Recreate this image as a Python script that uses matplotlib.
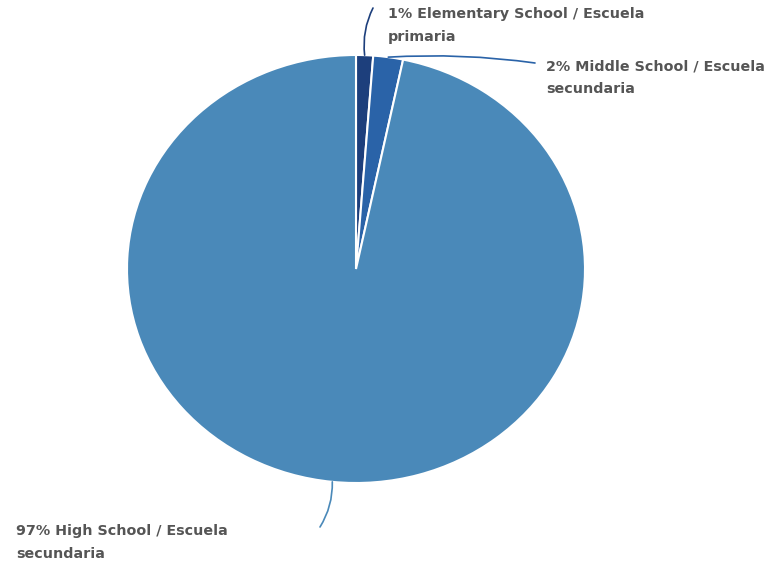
import numpy as np
import matplotlib.pyplot as plt

categories = ["Elementary School / Escuela primaria",
              "Middle School / Escuela secundaria",
              "High School / Escuela secundaria"]
values = [1.2, 2.1, 96.7]
label_lines = ["1% Elementary School / Escuela\nprimaria",
               "2% Middle School / Escuela\nsecundaria",
               "97% High School / Escuela\nsecundaria"]
colors = ["#1d3f7c", "#2a63a8", "#4a89b9"]

W, H = 776, 564
fig = plt.figure(figsize=(W / 100, H / 100), dpi=100)
fig.patch.set_facecolor("white")
ax = fig.add_axes([127 / W, (H - 483) / H, 458 / W, 428 / H])
wedges, _ = ax.pie(values, colors=colors, startangle=90, counterclock=False,
                   wedgeprops=dict(edgecolor="white", linewidth=1.5), radius=1.0)
ax.set_aspect("auto")
ax.set_xlim(-1, 1)
ax.set_ylim(-1, 1)
ax.axis("off")

# label baseline positions (figure pixels, first line) and leader end points
text_pos = [(388, 18), (546, 70), (16, 535)]
line_end = [(373, 8), (535, 63), (320, 527)]
rads = [0.15, 0.05, 0.15]
total = sum(values)
start = 90.0
for i, v in enumerate(values):
    ang = start - 360 * v / total / 2
    start -= 360 * v / total
    r = np.deg2rad(ang)
    xy = (np.cos(r), np.sin(r))
    ex, ey = line_end[i]
    ax.annotate("", xy=xy, xycoords="data",
                xytext=(ex / W, 1 - ey / H), textcoords="figure fraction",
                arrowprops=dict(arrowstyle="-", color=colors[i], lw=1.2,
                                connectionstyle=f"arc3,rad={rads[i]}",
                                shrinkA=0, shrinkB=0))
    tx, ty = text_pos[i]
    first, second = label_lines[i].split("\n")
    for j, line in enumerate([first, second]):
        fig.text(tx / W, 1 - (ty + 23 * j) / H, line, ha="left", va="baseline",
                 fontsize=10.3, fontweight="bold", color="#555555",
                 family=["DejaVu Sans"])

fig.savefig("out.png", dpi=100, facecolor="white")
